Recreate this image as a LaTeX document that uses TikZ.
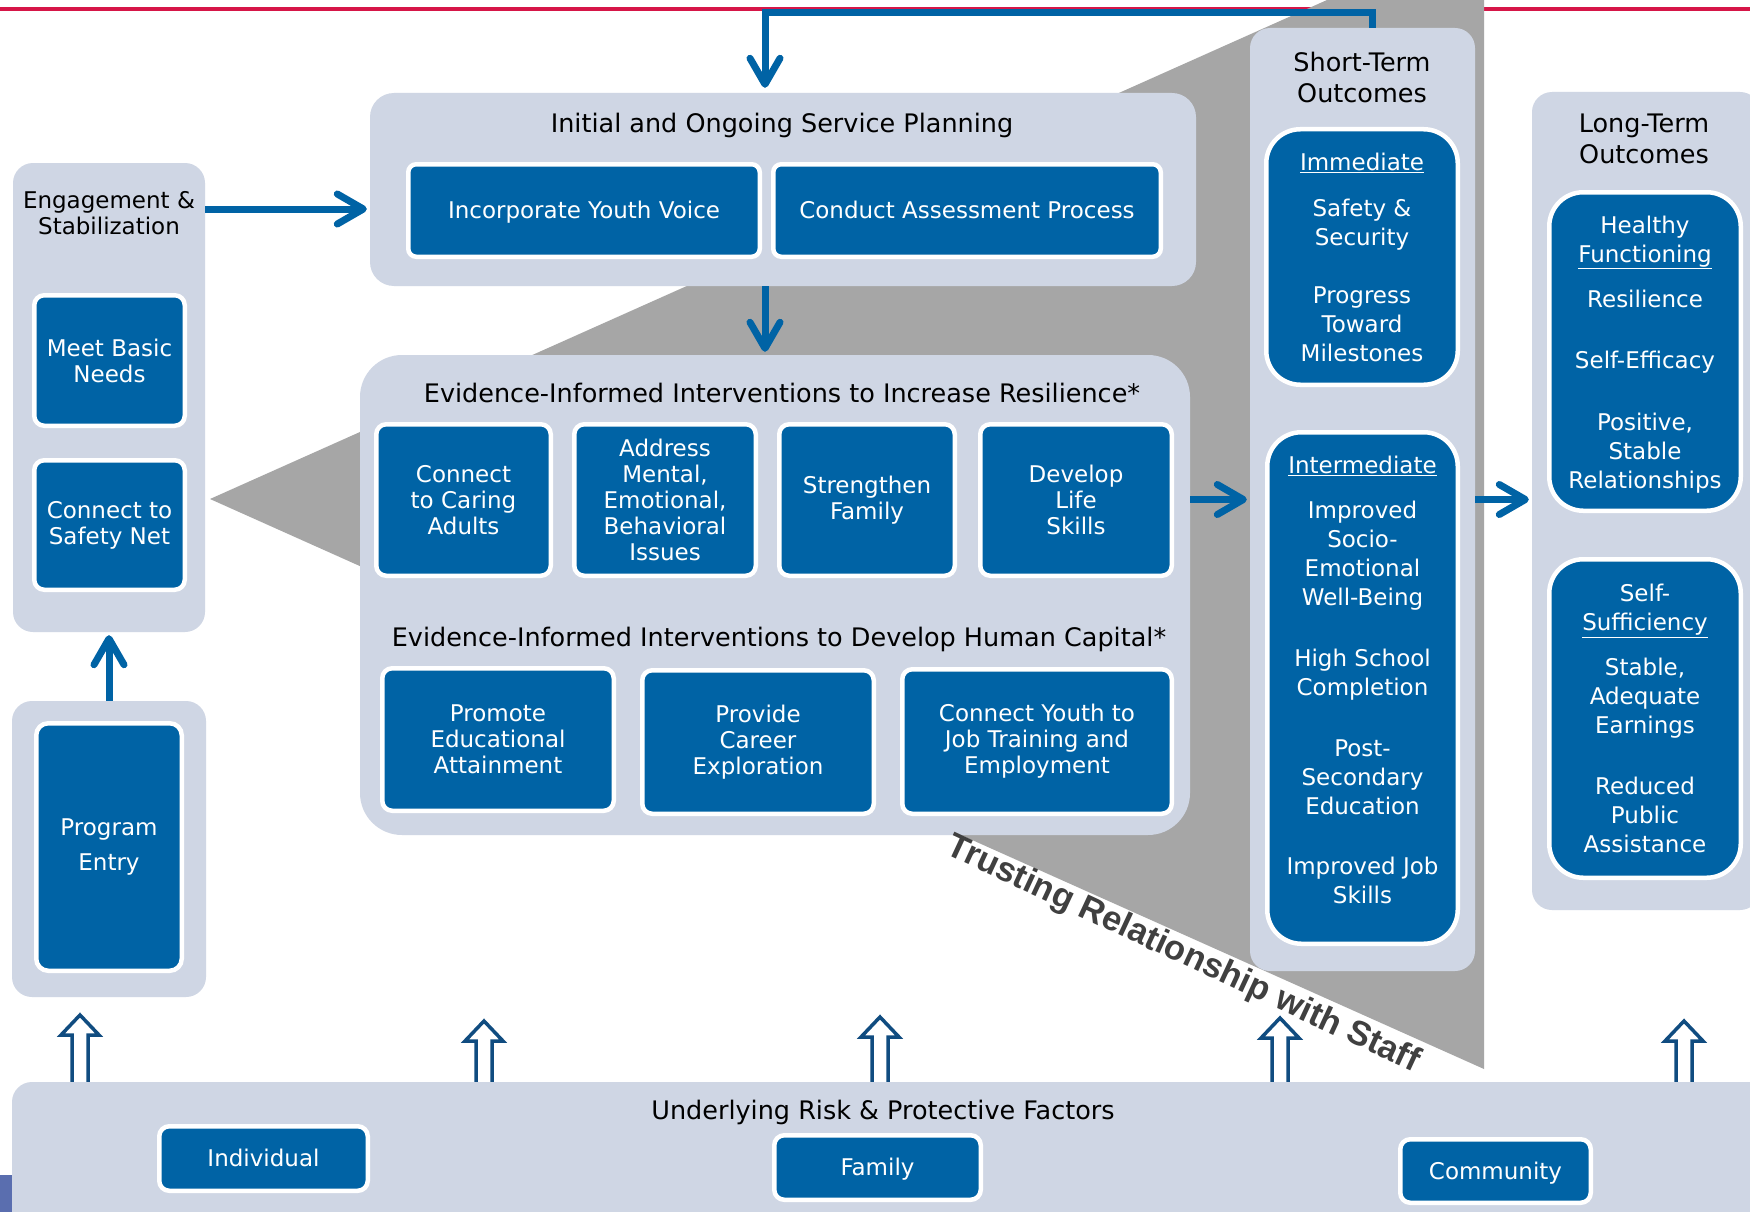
\documentclass[tikz,border=0pt]{standalone}
\usepackage{fontspec}
\setmainfont{DejaVu Sans}
\newfontfamily\trustfont{Liberation Sans}
\usetikzlibrary{arrows.meta}

\definecolor{boxblue}{RGB}{0,99,165}
\definecolor{panelgray}{RGB}{207,214,228}
\definecolor{wedgegray}{RGB}{166,166,166}
\definecolor{topred}{RGB}{214,22,72}
\definecolor{navy}{RGB}{16,76,128}
\definecolor{trustgray}{RGB}{64,64,64}
\definecolor{slideblue}{RGB}{90,110,175}

\newcommand\boxstrut{\rule[-5.5pt]{0pt}{27.5pt}}

\tikzset{
  panel/.style={fill=panelgray, rounded corners=20pt, inner sep=0pt},
  panelhead/.style={font=\fontsize{25.5}{31}\selectfont, align=center, inner sep=0pt},
  bluebox/.style={fill=boxblue, draw=white, line width=4.5pt, rounded corners=10pt,
    text=white, align=center, inner sep=0pt, font=\fontsize{23}{26}\selectfont},
  outbox/.style={bluebox, rounded corners=34pt, font=\fontsize{23}{29}\selectfont},
  outtext/.style={text=white, align=center, inner sep=0pt, font=\fontsize{23}{29}\selectfont},
  flow/.style={draw=boxblue, line width=7pt, shorten >=3pt,
    -{Straight Barb[length=26pt,width=30pt,round]}},
  hollowup/.style={draw=navy, line width=3.5pt, fill=white},
}

\begin{document}
\begin{tikzpicture}[x=1pt,y=-1pt]
\useasboundingbox (0,0) rectangle (1750,1212);
\clip (0,0) rectangle (1750,1212);
\fill[white] (0,0) rectangle (1750,1212);

% background: red rule and grey wedge
\draw[topred, line width=4pt] (0,9) -- (1750,9);
\fill[wedgegray] (210,499) -- (1327,0) -- (1484,0) -- (1484,1069) -- cycle;
\fill[slideblue] (0,1175) rectangle (12,1212);

% risk factor arrows
\foreach \x/\t in {80/1015,484/1021,880/1017,1280/1018,1684/1021}
  \draw[hollowup] (\x-8,1090) -- (\x-8,\t+20) -- (\x-19,\t+20) -- (\x,\t)
    -- (\x+19,\t+20) -- (\x+8,\t+20) -- (\x+8,1090);

% panels
\node[panel, minimum width=192pt, minimum height=469pt] (eng) at (109,397.5) {};
\node[panel, minimum width=194pt, minimum height=296pt] (entrypanel) at (109,849) {};
\node[panel, rounded corners=24pt, minimum width=826pt, minimum height=193pt] (plan) at (783,189.5) {};
\node[panel, rounded corners=42pt, minimum width=830pt, minimum height=480pt] (interv) at (775,595) {};
\node[panel, minimum width=225pt, minimum height=943pt] (st) at (1362.5,499.5) {};
\node[panel, minimum width=228pt, minimum height=818pt] (lt) at (1646,501) {};
\node[panel, minimum width=1758pt, minimum height=148pt] (risk) at (891,1156) {};

% panel titles
\node[panelhead, font=\fontsize{23}{26}\selectfont] (engtitle) at (109,213) {Engagement \&\\Stabilization};
\node[panelhead] (plantitle) at (782,125) {Initial and Ongoing Service Planning};
\node[panelhead] (restitle) at (782,393) {Evidence-Informed Interventions to Increase Resilience*};
\node[panelhead] (captitle) at (779,639) {Evidence-Informed Interventions to Develop Human Capital*};
\node[panelhead] (sttitle) at (1362,77) {Short-Term\\Outcomes};
\node[panelhead] (lttitle) at (1644,139) {Long-Term\\Outcomes};
\node[panelhead] (risktitle) at (883,1112) {Underlying Risk \& Protective Factors};

% engagement and entry
\node[bluebox, minimum width=150.5pt, minimum height=130.5pt] (basic) at (109.5,360.5) {Meet Basic\\Needs};
\node[bluebox, minimum width=150.5pt, minimum height=129.5pt] (safety) at (109.5,525) {Connect to\\Safety Net};
\node[bluebox, rounded corners=12pt, font=\fontsize{23}{35}\selectfont,
  minimum width=145.5pt, minimum height=247.5pt] (entry) at (109,847) {Program\\Entry};

% service planning
\node[bluebox, rounded corners=8pt, minimum width=351.5pt, minimum height=92.5pt] (youth) at (584,210.5) {\boxstrut Incorporate Youth Voice};
\node[bluebox, rounded corners=8pt, minimum width=387.5pt, minimum height=92.5pt] (assess) at (967,210.5) {\boxstrut Conduct Assessment Process};

% resilience interventions
\node[bluebox, minimum width=174.5pt, minimum height=151.5pt] (adults) at (463.5,500) {Connect\\to Caring\\Adults};
\node[bluebox, minimum width=181.5pt, minimum height=151.5pt] (mental) at (665,500) {Address\\Mental,\\Emotional,\\Behavioral\\Issues};
\node[bluebox, minimum width=175.5pt, minimum height=151.5pt] (family) at (867,500) {Strengthen\\Family};
\node[bluebox, minimum width=191.5pt, minimum height=151.5pt] (skills) at (1076,500) {Develop\\Life\\Skills};

% human capital interventions
\node[bluebox, minimum width=231.5pt, minimum height=142.5pt] (educ) at (498,739.5) {Promote\\Educational\\Attainment};
\node[bluebox, minimum width=231.5pt, minimum height=143.5pt] (career) at (758,742) {Provide\\Career\\Exploration};
\node[bluebox, minimum width=269.5pt, minimum height=144.5pt] (jobs) at (1037,741.5) {Connect Youth to\\Job Training and\\Employment};

% short-term outcomes
\node[outbox, minimum width=191.5pt, minimum height=255.5pt] (imm) at (1362,257)
  {\underline{Immediate}\\[17pt]Safety \&\\Security\\[29pt]Progress\\Toward\\Milestones};
\node[outbox, minimum width=190.5pt, minimum height=511.5pt] (inter) at (1362.5,688) {};
\node[outtext] (intertext) at (1362.5,680)
  {\underline{Intermediate}\\[16pt]Improved\\Socio-\\Emotional\\Well-Being\\[32pt]High School\\Completion\\[32pt]Post-\\Secondary\\Education\\[31pt]Improved Job\\Skills};

% long-term outcomes
\node[outbox, minimum width=191.5pt, minimum height=318.5pt] (healthy) at (1645,351.5) {};
\node[outtext] (healthytext) at (1645,354.5)
  {Healthy\\\underline{Functioning}\\[16pt]Resilience\\[32pt]Self-Efficacy\\[33pt]Positive,\\Stable\\Relationships};
\node[outbox, minimum width=191.5pt, minimum height=318.5pt] (suff) at (1645,718.5)
  {Self-\\\underline{Sufficiency}\\[16pt]Stable,\\Adequate\\Earnings\\[32pt]Reduced\\Public\\Assistance};

% risk and protective factors
\node[bluebox, minimum width=208.5pt, minimum height=64.5pt] (indiv) at (263.5,1158.5) {\boxstrut Individual};
\node[bluebox, minimum width=206.5pt, minimum height=64.5pt] (fam) at (877.5,1167.5) {\boxstrut Family};
\node[bluebox, minimum width=190.5pt, minimum height=63.5pt] (comm) at (1495.5,1171) {\boxstrut Community};

% connectors
\coordinate (loopcorner) at (1372,12.5);
\coordinate (mid) at (765,0);
\coordinate (engarrow) at (0,209);
\draw[flow, shorten >=5pt] (st.north -| loopcorner) -- (loopcorner) -| (plan.north -| mid);
\draw[flow] (eng.east |- engarrow) -- (plan.west |- engarrow);
\draw[flow] (plan.south -| mid) -- (interv.north -| mid);
\draw[flow] (interv.east |- st.west) -- (st.west);
\draw[flow] (st.east) -- (lt.west |- st.east);
\draw[flow] (entrypanel.north) -- (eng.south);

\node[rotate=-25, font=\trustfont\bfseries\fontsize{34.5}{38}\selectfont, text=trustgray,
  inner sep=0pt] (trust) at (1183,955) {Trusting Relationship with Staff};
\end{tikzpicture}
\end{document}
